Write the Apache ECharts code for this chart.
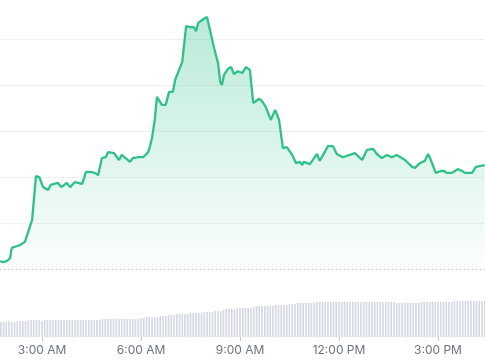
<!DOCTYPE html>
<html>
<head>
<meta charset="utf-8">
<script src="https://cdn.jsdelivr.net/npm/echarts@6/dist/echarts.min.js"></script>
<style>
html,body{margin:0;padding:0;background:#fff;}
#c{width:485px;height:360px;}
</style>
</head>
<body>
<div id="c"></div>
<script>
// time in minutes since midnight
const priceTimes = [104,109,116,122,125,135,140,149,156,162,169,175,182,191,196,209,215,225,231,240,253,260,267,276,282,289,296,300,311,320,325,340,345,355,364,373,376,380,385,389,398,405,411,418,422,435,442,449,456,460,464,473,480,493,500,504,507,511,518,524,529,536,544,551,558,564,575,580,587,596,604,611,618,625,635,642,649,653,656,667,680,685,700,709,716,727,749,762,771,782,789,798,807,816,825,840,853,858,867,876,882,885,896,905,911,916,925,936,944,949,962,969,985];
const priceValues = [0.17,0.15,0.17,0.24,0.46,0.50,0.52,0.59,0.85,1.07,2.02,2.00,1.78,1.72,1.83,1.87,1.78,1.87,1.78,1.89,1.85,2.11,2.11,2.09,2.04,2.41,2.43,2.54,2.52,2.37,2.48,2.33,2.41,2.43,2.43,2.54,2.65,2.85,3.24,3.74,3.57,3.57,3.85,3.85,4.11,4.50,5.28,5.26,5.26,5.17,5.35,5.43,5.48,4.80,4.48,4.07,4.00,4.22,4.35,4.39,4.24,4.30,4.26,4.39,4.33,3.61,3.70,3.65,3.52,3.24,3.46,3.24,2.63,2.65,2.48,2.30,2.33,2.26,2.33,2.28,2.50,2.35,2.67,2.67,2.50,2.43,2.52,2.37,2.59,2.61,2.50,2.41,2.48,2.43,2.48,2.37,2.22,2.20,2.30,2.35,2.50,2.43,2.09,2.13,2.13,2.09,2.09,2.17,2.13,2.09,2.09,2.22,2.26];

const volStart = 105, volStep = 5;
const volumeValues = [
 15,15,15,16,15,15,16,16,16,16,17,
 17,17,17,17,16,17,17,17,17,17,17,17,17,17,17,17,17,17,17,17,17,17,17,17,17,17,
 18,18,18,18,18,18,18,18,18,18,18,18,18,18,
 19,19,20,20,20,20,20,21,
 21,21,22,22,22,23,23,
 23,23,23,24,24,24,24,24,25,
 25,25,25,26,26,26,27,
 28,28,28,28,29,29,29,29,29,29,30,
 31,31,31,31,31,31,31,32,32,32,32,32,33,
 33,33,34,34,34,34,34,34,34,35,35,
 35,35,35,35,35,35,35,35,35,35,35,35,35,35,35,35,35,35,35,35,35,35,35,35,35,35,35,
 34,34,34,34,34,34,34,34,34,35,35,
 35,35,35,35,35,35,35,35,35,35,36,36,36,
 36,36,36,36,36,36,36,36,36
];

const tickMinutes = [180,360,540,720,900];
const tickLabels = ['3:00 AM','6:00 AM','9:00 AM','12:00 PM','3:00 PM'];

const priceData = priceTimes.map((t,i)=>[t,priceValues[i]]);
const volData = volumeValues.map((v,i)=>[volStart+i*volStep, v]);

const xMin = 103.6, xMax = 985.5;
const yMax = 269/46;

const chart = echarts.init(document.getElementById('c'), null, {renderer:'canvas'});
chart.setOption({
  animation:false,
  backgroundColor:'#fff',
  grid:[
    {left:0,right:0,top:0,height:269},
    {left:0,right:0,top:295,height:42}
  ],
  xAxis:[
    {type:'value',gridIndex:0,min:xMin,max:xMax,
     axisLabel:{show:false},axisTick:{show:false},splitLine:{show:false},
     axisLine:{show:true,lineStyle:{color:'#c4c4c4',type:[1,3],width:1}}},
    {type:'value',gridIndex:1,min:xMin,max:xMax,
     splitLine:{show:false},axisLine:{show:false},
     axisTick:{show:true,customValues:tickMinutes,length:4,lineStyle:{color:'#c8c8c8'}},
     axisLabel:{show:true,customValues:tickMinutes,margin:7,color:'#6b7280',
       fontFamily:'Inter',fontSize:12,
       formatter:(v)=>{const i=tickMinutes.indexOf(Math.round(v));return i>=0?tickLabels[i]:'';}}}
  ],
  yAxis:[
    {type:'value',gridIndex:0,min:0,max:yMax,interval:1,
     axisLabel:{show:false},axisLine:{show:false},axisTick:{show:false},
     splitLine:{show:true,showMinLine:false,showMaxLine:false,lineStyle:{color:'#f0f0f0',width:1}}},
    {type:'value',gridIndex:1,min:0,max:42,show:false,splitLine:{show:false}}
  ],
  series:[
    {type:'line',xAxisIndex:0,yAxisIndex:0,data:priceData,showSymbol:false,
     lineStyle:{color:'#2fc189',width:2.3},
     itemStyle:{color:'#2fc189'},
     areaStyle:{color:new echarts.graphic.LinearGradient(0,0,0,1,[
       {offset:0,color:'rgba(47,193,137,0.48)'},
       {offset:1,color:'rgba(47,193,137,0.02)'}])}},
    {type:'bar',xAxisIndex:1,yAxisIndex:1,data:volData,barWidth:1.6,
     itemStyle:{color:'#d3d6e4'}}
  ]
});
</script>
</body>
</html>
